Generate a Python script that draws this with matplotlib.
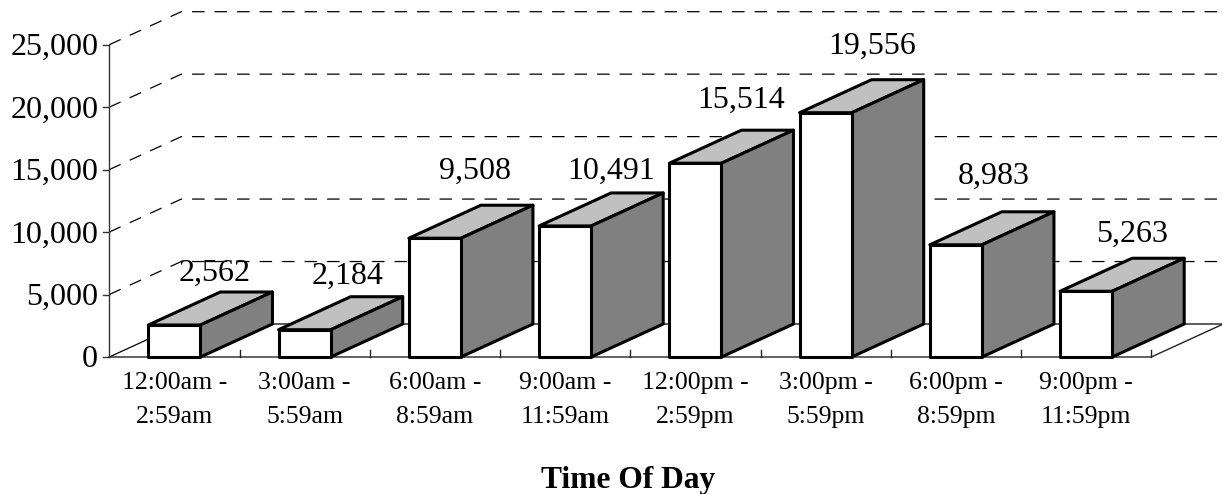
import matplotlib
matplotlib.use('Agg')
import matplotlib.pyplot as plt
from matplotlib.patches import Polygon

plt.rcParams['font.family'] = ['Liberation Serif']

categories = ['12:00am -\n2:59am', '3:00am -\n5:59am', '6:00am -\n8:59am', '9:00am -\n11:59am',
              '12:00pm -\n2:59pm', '3:00pm -\n5:59pm', '6:00pm -\n8:59pm', '9:00pm -\n11:59pm']
values = [2562, 2184, 9508, 10491, 15514, 19556, 8983, 5263]
y_ticks = [0, 5000, 10000, 15000, 20000, 25000]

# where each value label sits, the source chart placed them by hand
label_dx = [0.31, 0.33, 0.31, 0.35, 0.35, 0.36, 0.29, 0.35]
label_base = [6080, 5840, 14250, 14250, 19930, 24260, 13850, 9200]

# 1 category = 130.25 px, 1 value unit = 312.3 / 25000 px
fig = plt.figure(figsize=(12.22, 4.94), dpi=100)
ax = fig.add_axes([0, 0, 1, 1])
ax.set_xlim(-174.4 / 130.25, (1222 - 174.4) / 130.25)
ax.set_ylim(-137 * 25000 / 312.3, 357 * 25000 / 312.3)
ax.axis('off')

bar_w = 0.2
depth_x = 72 / 130.25
depth_y = 33 * 25000 / 312.3
left = -0.5
right = left + len(values)

# back wall grid and floor
for t in y_ticks:
    if t == 0:
        ax.plot([left, left + depth_x, right + depth_x], [0, depth_y, depth_y], color='black', lw=0.9, zorder=1)
    else:
        ax.plot([left, left + depth_x, right + depth_x], [t, t + depth_y, t + depth_y],
                color='black', lw=0.9, dashes=(10, 8), zorder=1)
    ax.plot([left - 0.05, left], [t, t], color='#333333', lw=1, zorder=1)
    ax.text(left - 0.085, t + 60, f'{t:,}', fontsize=23, ha='right', va='center_baseline')

ax.plot([left, left], [0, 25000], color='#333333', lw=1, zorder=1)
ax.plot([left, right, right + depth_x], [0, 0, depth_y], color='#222222', lw=1, zorder=1)
for i in range(1, len(values) + 1):
    ax.plot([left + i, left + i], [0, 600], color='#222222', lw=1, zorder=1)

# bars
for i, v in enumerate(values):
    x0 = i - bar_w
    x1 = i + bar_w
    top = [(x0, v), (x1, v), (x1 + depth_x, v + depth_y), (x0 + depth_x, v + depth_y)]
    side = [(x1, 0), (x1 + depth_x, depth_y), (x1 + depth_x, v + depth_y), (x1, v)]
    front = [(x0, 0), (x1, 0), (x1, v), (x0, v)]
    ax.add_patch(Polygon(top, closed=True, fc='#c0c0c0', ec='black', lw=2.2, joinstyle='round', zorder=2))
    ax.add_patch(Polygon(side, closed=True, fc='#808080', ec='black', lw=2.2, joinstyle='round', zorder=2))
    ax.add_patch(Polygon(front, closed=True, fc='white', ec='black', lw=2.2, joinstyle='round', zorder=2))
    ax.text(i + label_dx[i], label_base[i], f'{v:,}', fontsize=23, ha='center', va='baseline', zorder=3)
    ax.text(i, -5283, categories[i], fontsize=18.5, ha='center', va='baseline', linespacing=1.7)

ax.text(3.48, -10450, 'Time Of Day', fontsize=22.7, fontweight='bold', ha='center', va='baseline')

plt.savefig('out.png', dpi=100)
